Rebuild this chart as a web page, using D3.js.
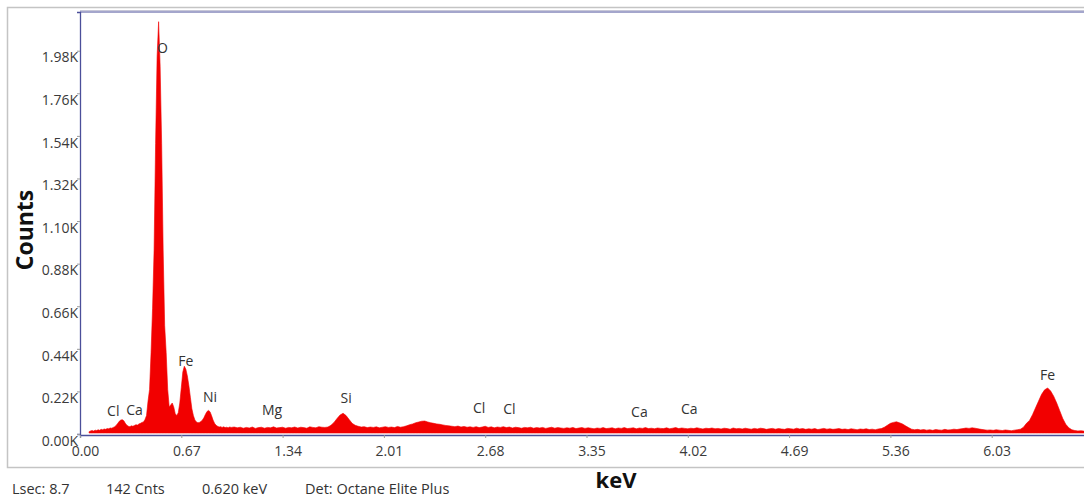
<!DOCTYPE html>
<html>
<head>
<meta charset="utf-8">
<script src="https://cdn.jsdelivr.net/npm/d3@7"></script>
<style>
  body { margin: 0; background: #fff; }
  svg { display: block; font-family: "Open Sans", "Noto Sans", sans-serif; }
</style>
</head>
<body>
<div id="chart"></div>
<script>
// spectrum, low part: 0.00 - 1.00 keV, one value every 0.01 keV
var lowStart = 0, lowStep = 0.01
var lowCounts = [
    0, 0, 0, 0, 0, 0, 12, 16, 18, 15,
    20, 18, 22, 19, 24, 22, 26, 24, 28, 27,
    31, 30, 34, 38, 45, 55, 66, 72, 74, 68,
    55, 45, 40, 38, 42, 40, 44, 48, 46, 52,
    55, 60, 62, 75, 95, 170, 230, 420, 650, 950,
    1500, 1950, 2130, 1900, 1500, 950, 560, 420, 230, 140,
    150, 160, 140, 105, 95, 110, 160, 240, 320, 350,
    335, 300, 250, 190, 130, 95, 72, 62, 58, 60,
    65, 72, 85, 102, 116, 122, 115, 95, 72, 55,
    45, 40, 36, 38, 34, 37, 33, 35, 32, 36,
    34
]

// spectrum, high part: 1.02 - 6.70 keV, one value every 0.02 keV
var highStart = 1.02, highStep = 0.02
var highCounts = [
    36, 32, 35, 30, 34, 31, 36, 29, 33, 35,
    30, 34, 32, 37, 31, 33, 35, 30, 34, 32,
    36, 31, 35, 33, 30, 37, 34, 32, 38, 35,
    34, 36, 45, 60, 80, 98, 107, 95, 75, 55,
    45, 40, 36, 38, 33, 36, 34, 37, 32, 35,
    38, 34, 36, 33, 39, 35, 38, 42, 48, 52,
    58, 62, 66, 67, 62, 58, 55, 52, 50, 47,
    44, 42, 40, 38, 41, 36, 39, 35, 37, 34,
    38, 33, 36, 40, 34, 37, 32, 36, 34, 38,
    33, 36, 31, 35, 33, 30, 34, 32, 35, 30,
    33, 31, 34, 29, 32, 35, 30, 33, 31, 29,
    32, 30, 34, 28, 31, 33, 29, 32, 30, 27,
    31, 29, 33, 28, 30, 32, 27, 31, 29, 33,
    28, 30, 32, 27, 31, 29, 33, 28, 30, 27,
    31, 29, 28, 32, 27, 30, 33, 28, 31, 29,
    27, 30, 28, 32, 29, 26, 30, 28, 31, 27,
    29, 26, 30, 28, 25, 31, 27, 29, 26, 30,
    27, 25, 29, 26, 30, 28, 24, 27, 29, 25,
    28, 26, 24, 29, 27, 25, 30, 26, 28, 24,
    27, 25, 28, 23, 26, 29, 25, 27, 24, 26,
    28, 24, 26, 23, 27, 25, 22, 26, 24, 27,
    23, 25, 22, 26, 28, 35, 45, 55, 60, 63,
    58, 52, 42, 33, 25, 22, 24, 21, 23, 20,
    22, 19, 23, 21, 20, 24, 21, 22, 25, 23,
    26, 28, 31, 29, 32, 30, 27, 24, 22, 20,
    21, 19, 22, 20, 18, 21, 19, 17, 20, 22,
    25, 35, 55, 70, 100, 135, 170, 205, 228, 238,
    222, 195, 160, 120, 80, 50, 32, 22, 18, 16,
    17, 15, 18, 16, 17
]

// element labels
var peakNames = ["Cl", "Ca", "O", "Fe", "Ni", "Mg", "Si", "Cl", "Cl", "Ca", "Ca", "Fe"]
var peakKeV = [0.22, 0.36, 0.545, 0.70, 0.86, 1.27, 1.76, 2.64, 2.84, 3.70, 4.03, 6.40]
var peakLabelCounts = [93, 98, 1967, 351, 165, 98, 160, 108, 103, 88, 103, 279]

var xTicks = [0, 0.67, 1.34, 2.01, 2.68, 3.35, 4.02, 4.69, 5.36, 6.03]
var yTicks = [0, 220, 440, 660, 880, 1100, 1320, 1540, 1760, 1980]

var footer = ["Lsec: 8.7", "142 Cnts", "0.620 keV", "Det: Octane Elite Plus"]

var spectrum = []
lowCounts.forEach((c, i) => spectrum.push({ e: lowStart + i * lowStep, c: c }))
highCounts.forEach((c, i) => spectrum.push({ e: highStart + i * highStep, c: c }))

var svgSize = { width: 1084, height: 499 }
var plot = { left: 80, top: 12, bottom: 434, right: 1093 }

var svg = d3.select("#chart").append("svg")
    .attr("width", svgSize.width)
    .attr("height", svgSize.height)

// outer grey box
svg.append("rect")
    .attr("x", 7.5).attr("y", 7.5)
    .attr("width", 1100).attr("height", 460)
    .attr("fill", "none")
    .attr("stroke", "#c4c4c4")
    .attr("stroke-width", 1.5)

var xScale = d3.scaleLinear().domain([0, 6.70]).range([plot.left, plot.right])
var yScale = d3.scaleLinear().domain([0, 2180]).range([plot.bottom, plot.top])

// plot frame
svg.append("line")
    .attr("x1", plot.left).attr("x2", 1090)
    .attr("y1", plot.top - 1.5).attr("y2", plot.top - 1.5)
    .attr("stroke", "#c8c8d8").attr("stroke-width", 1)
svg.append("line")
    .attr("x1", plot.left).attr("x2", 1090)
    .attr("y1", plot.top).attr("y2", plot.top)
    .attr("stroke", "#4b4f9a").attr("stroke-width", 1.2)

var area = d3.area()
    .x(d => xScale(d.e))
    .y0(yScale(0) - 1)
    .y1(d => yScale(d.c))

svg.append("path")
    .datum(spectrum.filter(d => d.c > 0))
    .attr("d", area)
    .attr("fill", "#f20000")
    .attr("stroke", "#f20000")
    .attr("stroke-width", 0.6)

// axes
var bottomAxis = d3.axisBottom(xScale).tickValues(xTicks).tickSize(3).tickFormat(d3.format(".2f"))
var leftAxis = d3.axisLeft(yScale).tickValues(yTicks).tickSize(3).tickFormat(d => (d / 1000).toFixed(2) + "K")

var gx = svg.append("g")
    .attr("transform", `translate(0, ${plot.bottom + 1})`)
    .call(bottomAxis)
gx.select(".domain").attr("stroke", "#4b4f9a").attr("stroke-width", 1.3)
gx.selectAll(".tick line").attr("stroke", "#999")
gx.selectAll(".tick text")
    .attr("x", 5).attr("y", 11)
    .attr("fill", "#3a3a3a")
    .style("font-size", "14px")
    .style("font-family", "'Open Sans', sans-serif")

var gy = svg.append("g")
    .attr("transform", `translate(${plot.left}, 0)`)
    .call(leftAxis)
gy.select(".domain").attr("stroke", "#4b4f9a").attr("stroke-width", 1.3)
gy.selectAll(".tick line").attr("stroke", "#999")
gy.selectAll(".tick text")
    .attr("x", -2).attr("dy", "0.8em")
    .attr("fill", "#3a3a3a")
    .style("font-size", "14px")
    .style("font-family", "'Open Sans', sans-serif")

// element labels
svg.append("g").selectAll("text")
    .data(peakNames)
    .enter()
    .append("text")
    .attr("x", (d, i) => xScale(peakKeV[i]))
    .attr("y", (d, i) => yScale(peakLabelCounts[i]))
    .attr("text-anchor", "middle")
    .attr("fill", "#333")
    .style("font-size", "14px")
    .text(d => d)

// axis titles
svg.append("text")
    .attr("transform", "translate(33, 230) rotate(-90)")
    .attr("text-anchor", "middle")
    .style("font-size", "23px")
    .style("font-weight", "bold")
    .attr("fill", "#111")
    .text("Counts")

svg.append("text")
    .attr("x", 616).attr("y", 488)
    .attr("text-anchor", "middle")
    .style("font-size", "22px")
    .style("font-weight", "bold")
    .attr("fill", "#111")
    .text("keV")

// status line
var footerX = [12, 106, 202, 305]
svg.append("g").selectAll("text")
    .data(footer)
    .enter()
    .append("text")
    .attr("x", (d, i) => footerX[i])
    .attr("y", 494)
    .attr("fill", "#333")
    .style("font-size", "14.5px")
    .text(d => d)
</script>
</body>
</html>
